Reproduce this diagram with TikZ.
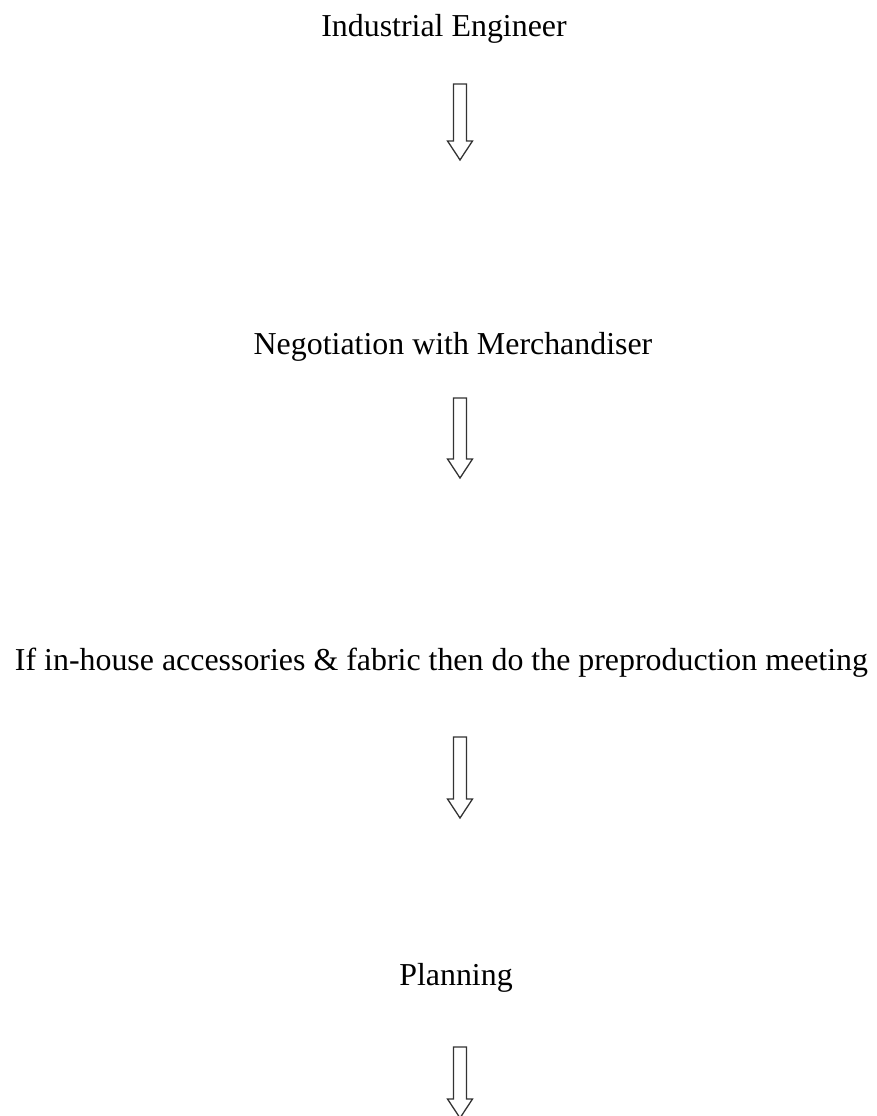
\documentclass[tikz,border=0pt]{standalone}
\usepackage{fontspec}
\setmainfont{Liberation Serif}
\usetikzlibrary{calc}
\newcommand\bArrow[4]{% name, x, ytop(px), ybot(px)
  \coordinate (#1) at (#2,1116-#3);
  \draw[barrow] ($(#1)+(-6.5,0)$) -- ($(#1)+(6.5,0)$) -- (#2+6.5,1116-#4+19) -- (#2+12.5,1116-#4+19)
    -- (#2,1116-#4) -- (#2-12.5,1116-#4+19) -- (#2-6.5,1116-#4+19) -- cycle;}
\begin{document}
\begin{tikzpicture}[x=1pt,y=1pt,
  lbl/.style={inner sep=0pt,anchor=base,font=\fontsize{31.9}{36}\selectfont,text=black},
  barrow/.style={draw=black!80,line width=1.3pt,line join=miter,fill=white}]
\useasboundingbox (0,0) rectangle (877,1116);
\node[lbl] (t1) at (444,1116-37) {Industrial Engineer};
\bArrow{a1}{460}{84}{160}
\node[lbl] (t2) at (453,1116-355) {Negotiation with Merchandiser};
\bArrow{a2}{460}{398}{478}
\node[lbl] (t3) at (441.5,1116-671) {If in-house accessories \& fabric then do the preproduction meeting};
\bArrow{a3}{460}{737}{818}
\node[lbl] (t4) at (456,1116-986) {Planning};
\bArrow{a4}{460}{1047}{1118}
\end{tikzpicture}
\end{document}
